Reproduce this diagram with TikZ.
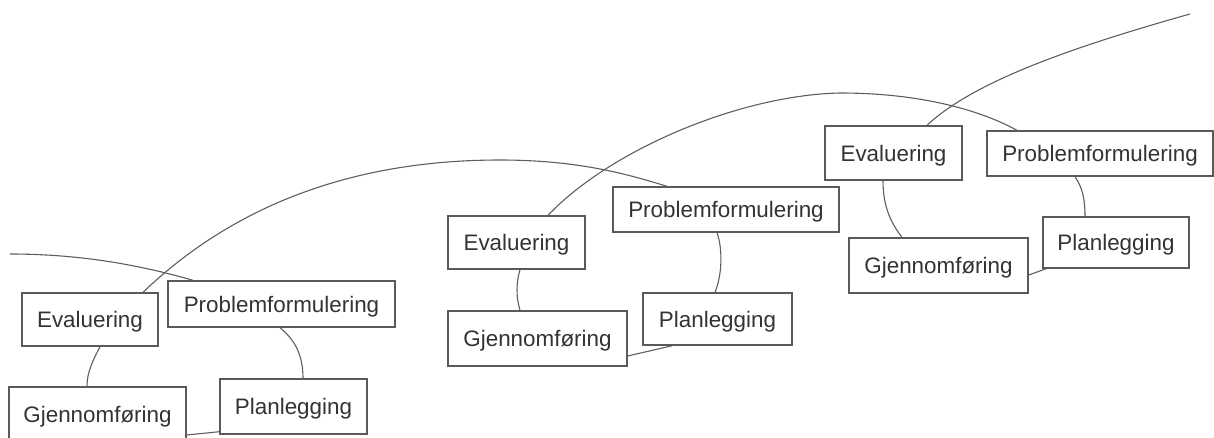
\documentclass[tikz,border=0pt]{standalone}
\usepackage{fontspec}
\setmainfont{Liberation Sans}
\usetikzlibrary{calc}
\definecolor{boxline}{HTML}{5A5A5A}
\definecolor{conline}{HTML}{5E5E5E}
\definecolor{txt}{HTML}{333333}
\tikzset{
  box/.style={draw=boxline, line width=1.4pt, fill=white, inner sep=0pt,
    text=txt, font=\fontsize{22.4}{26}\selectfont, text height=16pt, text depth=0pt},
  conn/.style={draw=conline, line width=1.1pt},
}
\begin{document}
\begin{tikzpicture}[x=1pt,y=-1pt]
\useasboundingbox (0,0) rectangle (1214,437);
\coordinate (in1) at (10,254);
\coordinate (out3) at (1190,14);
\path
  node[box, minimum width=136pt, minimum height=53pt] (e1) at (90,319.5) {Evaluering}
  node[box, minimum width=227pt, minimum height=46pt] (p1) at (281.5,304) {Problemformulering}
  node[box, minimum width=177pt, minimum height=54pt] (g1) at (97.5,414) {Gjennomføring}
  node[box, minimum width=147pt, minimum height=55pt] (l1) at (293.5,406.5) {Planlegging}
  node[box, minimum width=137pt, minimum height=53pt] (e2) at (516.5,242.5) {Evaluering}
  node[box, minimum width=226pt, minimum height=45pt] (p2) at (726,209.5) {Problemformulering}
  node[box, minimum width=179pt, minimum height=55pt] (g2) at (537.5,338.5) {Gjennomføring}
  node[box, minimum width=149pt, minimum height=52pt] (l2) at (717.5,319) {Planlegging}
  node[box, minimum width=137pt, minimum height=54pt] (e3) at (893.5,153) {Evaluering}
  node[box, minimum width=226pt, minimum height=45pt] (p3) at (1100,153.5) {Problemformulering}
  node[box, minimum width=179pt, minimum height=55pt] (g3) at (938.5,265.5) {Gjennomføring}
  node[box, minimum width=146pt, minimum height=51pt] (l3) at (1116,242.5) {Planlegging};
% cycle 1 connectors
\draw[conn] (in1) .. controls (80,254) and (140,265) .. ([xshift=-88.5pt]p1.north);
\draw[conn] ([xshift=53pt]e1.north) .. controls (250,190) and (380,160) .. (500,160)
  .. controls (580,160) and (630,175) .. ([xshift=-59pt]p2.north);
\draw[conn] ([xshift=10pt]e1.south) .. controls (93,360) and (87,372) .. ([xshift=-10.5pt]g1.north);
\draw[conn] ([xshift=-1.5pt]p1.south) .. controls (295,340) and (303,355) .. ([xshift=9.5pt]l1.north);
\draw[conn] ([yshift=-21pt]g1.east) -- ([yshift=3pt]l1.south west);
% cycle 2 connectors
\draw[conn] ([xshift=31.5pt]e2.north) .. controls (610,150) and (740,95) .. (840,93)
  .. controls (920,93) and (980,110) .. ([xshift=-83pt]p3.north);
\draw[conn] ([xshift=3.5pt]e2.south) .. controls (516,283) and (516,297) .. ([xshift=-17.5pt]g2.north);
\draw[conn] ([xshift=-9pt]p2.south) .. controls (723,250) and (722,275) .. ([xshift=-2.5pt]l2.north);
\draw[conn] ([yshift=-17.5pt]g2.east) -- ([xshift=30pt]l2.south west);
% cycle 3 connectors
\draw[conn] ([xshift=33.5pt]e3.north) .. controls (975,80) and (1080,45) .. (out3);
\draw[conn] ([xshift=-10.5pt]e3.south) .. controls (883,205) and (890,222) .. ([xshift=-36.5pt]g3.north);
\draw[conn] ([xshift=-25pt]p3.south) .. controls (1082,187) and (1085,198) .. ([xshift=-31pt]l3.north);
\draw[conn] ([yshift=-9.5pt]g3.east) -- ([xshift=4pt]l3.south west);
% redraw box outlines on top of connectors
\foreach \n in {e1,p1,g1,l1,e2,p2,g2,l2,e3,p3,g3,l3}{
  \draw[draw=boxline, line width=1.4pt] (\n.south west) rectangle (\n.north east);
}
\end{tikzpicture}
\end{document}
